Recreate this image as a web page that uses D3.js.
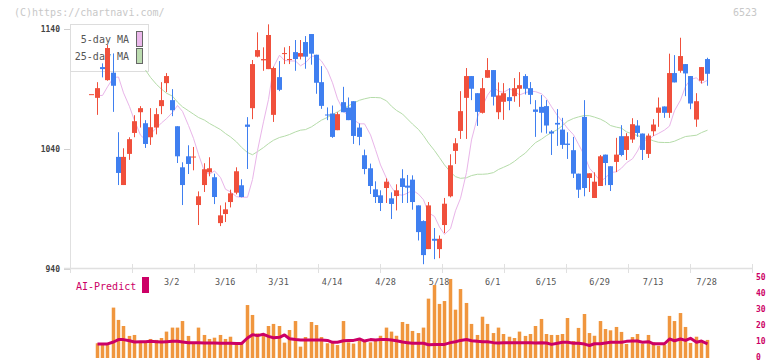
<!DOCTYPE html>
<html>
<head>
<meta charset="utf-8">
<script src="https://cdn.jsdelivr.net/npm/d3@7"></script>
<style>
  body { margin: 0; background: #fff; }
  svg text { font-family: "DejaVu Sans Mono", monospace; }
</style>
</head>
<body>
<svg id="chart"></svg>
<script>
// daily candles, index 0 is a no-trade day
const opens = [1085.6,1082.5,1108.2,1097.3,1103.5,1033.2,1009.7,1035.7,1053.2,1070.5,1061.3,1049.6,1057.7,1075.6,1094.8,1080.6,1058.8,1024.5,1033.7,1032.8,
  993.0,1009.7,1020.3,1016.2,977.9,985.5,995.5,1003.3,1009.5,1060.2,1073.9,1116.9,1113.8,1106.5,1068.3,1099.8,1119.4,1114.3,1120.7,1116.9,
  1129.1,1135.8,1118.5,1095.6,1068.6,1069.4,1055.5,1078.9,1074.4,1079.7,1057.7,1034.6,1023.7,1006.1,1001.1,1007.2,998.6,1000.5,1015.3,1009.2,
  1014.2,992.7,979.6,956.2,964.8,956.2,976.3,1000.3,1038.2,1054.9,1082.5,1100.7,1086.4,1070.0,1099.3,1105.7,1070.5,1079.2,1083.1,1083.9,
  1090.1,1100.7,1090.6,1072.8,1075.0,1075.6,1054.4,1061.6,1056.0,1044.3,1038.8,1019.2,1066.6,1015.6,998.9,1008.9,1035.1,1025.4,1029.0,1050.5,
  1039.0,1047.7,1059.4,1052.7,1035.7,1054.6,1070.0,1075.3,1070.0,1103.2,1105.1,1110.7,1100.7,1064.4,1096.8,1114.9];
const highs = [1085.6,1095.6,1111.3,1126.6,1119.6,1053.8,1040.4,1049.6,1068.0,1075.6,1063.9,1073.9,1073.9,1095.6,1103.2,1089.8,1058.8,1028.7,1042.9,1041.5,
  1004.4,1027.9,1032.9,1019.2,992.7,995.2,1005.8,1024.5,1014.5,1066.4,1114.1,1137.2,1124.7,1143.9,1108.5,1113.2,1124.7,1125.8,1130.8,1130.8,
  1134.1,1135.8,1118.5,1109.0,1074.5,1076.1,1070.5,1091.7,1082.8,1079.7,1061.1,1039.3,1027.6,1012.8,1005.3,1015.3,1003.6,1010.3,1022.9,1018.1,
  1017.8,992.7,980.2,995.5,973.8,967.6,998.9,1035.4,1048.8,1088.1,1107.4,1100.7,1086.4,1099.0,1115.7,1105.7,1095.4,1094.8,1090.6,1099.0,
  1104.0,1102.3,1095.7,1080.6,1084.8,1080.6,1055.5,1073.1,1065.8,1053.8,1049.9,1019.2,1080.6,1019.5,1020.3,1034.8,1035.1,1025.4,1049.1,1059.7,
  1053.0,1065.5,1063.9,1052.7,1052.7,1064.7,1082.8,1075.3,1119.4,1118.2,1132.7,1110.7,1100.7,1086.4,1108.2,1116.0];
const lows = [1085.6,1068.3,1099.6,1096.8,1070.8,1009.7,1009.7,1030.7,1049.6,1057.7,1040.7,1043.2,1052.0,1068.9,1087.3,1067.2,1028.1,993.0,1018.9,1022.0,
  976.3,1003.9,1017.0,993.8,975.4,978.8,991.0,1001.9,999.4,1023.1,1064.7,1116.3,1105.1,1106.5,1062.4,1088.1,1110.7,1110.7,1105.1,1114.6,
  1106.8,1110.2,1085.9,1073.3,1063.9,1049.1,1055.5,1070.5,1063.9,1044.0,1042.9,1018.7,1002.2,994.7,988.0,994.7,981.3,988.5,994.7,994.7,
  989.1,963.4,943.6,956.2,947.8,948.6,969.6,999.4,1027.3,1048.2,1048.2,1080.6,1059.1,1069.4,1099.3,1076.1,1064.7,1064.1,1072.2,1079.2,
  1075.0,1085.3,1077.2,1049.9,1053.5,1052.7,1034.8,1042.4,1039.9,1031.5,1015.6,998.9,1000.3,1003.9,998.9,1008.9,1009.5,1004.7,1020.6,1033.7,
  1030.6,1044.9,1049.9,1030.6,1032.3,1050.7,1058.3,1065.8,1065.8,1095.4,1103.5,1083.9,1073.0,1058.3,1094.5,1092.6];
const closes = [1085.6,1090.6,1106.5,1124.1,1092.6,1019.8,1033.2,1048.0,1063.0,1073.9,1044.0,1058.0,1068.9,1080.6,1100.7,1072.2,1033.7,1009.7,1027.3,1033.5,
  1000.3,1022.9,1023.7,999.7,984.4,989.4,1002.8,1021.2,999.7,1058.3,1110.7,1122.4,1114.9,1135.0,1107.4,1089.2,1119.9,1114.9,1114.9,1119.9,
  1116.9,1119.4,1095.1,1075.8,1068.3,1049.9,1068.9,1070.5,1063.9,1050.7,1049.9,1023.1,1008.9,999.7,994.7,1012.5,993.9,1005.3,1008.1,1007.5,
  995.5,970.4,951.2,992.7,963.2,964.8,994.1,1026.2,1044.6,1071.4,1100.7,1090.1,1070.8,1090.6,1105.7,1083.4,1084.5,1086.4,1079.8,1090.6,
  1093.1,1090.1,1085.0,1070.8,1070.0,1059.4,1052.7,1060.2,1043.2,1043.2,1019.2,1005.8,1007.2,1019.5,1012.5,1033.7,1028.1,1009.7,1035.1,1034.8,
  1050.5,1060.5,1053.2,1039.0,1051.0,1060.2,1074.4,1070.0,1103.2,1095.4,1117.4,1102.9,1077.8,1079.7,1108.2,1102.6];

// moving averages as drawn
const ma5 = [null,1084.5,1084.5,1091.7,1099.5,1099.9,1086.7,1075.2,1063.5,1051.3,1047.6,1052.4,1057.4,1061.6,1065.1,1070.4,1076.1,1071.2,1059.4,1048.7,
  1035.3,1020.9,1018.7,1021.5,1016.0,1006.2,1004.0,1000.0,999.5,999.5,1014.3,1038.5,1062.5,1081.2,1108.3,1118.1,1113.8,1113.3,1113.3,1109.3,
  1111.8,1117.3,1117.2,1113.2,1105.4,1095.1,1081.7,1071.6,1066.7,1064.3,1060.8,1060.8,1051.6,1039.3,1026.5,1015.3,1007.8,1001.9,1001.2,1002.9,
  1005.5,1002.1,997.4,986.5,983.5,974.6,968.5,973.2,988.2,998.6,1020.2,1047.4,1066.6,1075.5,1084.7,1091.6,1088.1,1087.0,1090.1,1088.0,
  1084.9,1086.9,1088.0,1087.7,1085.9,1081.8,1075.1,1067.6,1062.6,1057.1,1051.7,1043.7,1034.3,1023.7,1019.0,1012.8,1015.7,1020.2,1020.7,1023.8,
  1028.3,1031.6,1038.1,1046.8,1047.6,1050.8,1052.8,1055.6,1058.9,1071.8,1080.6,1092.1,1097.8,1099.3,1094.6,1097.2];
const ma25 = [null,null,null,null,null,null,null,null,null,null,1105.7,1099.6,1093.7,1089.8,1086.4,1083.9,1078.9,1075.0,1071.7,1068.9,
  1066.1,1063.9,1061.1,1058.8,1056.0,1052.7,1049.9,1045.7,1041.2,1036.8,1035.0,1037.6,1041.0,1044.3,1047.1,1049.4,1050.5,1051.9,1054.1,1055.5,
  1056.0,1058.3,1061.1,1063.9,1066.2,1068.6,1070.8,1073.6,1075.9,1078.1,1080.5,1081.7,1082.8,1082.8,1082.5,1080.0,1075.5,1072.0,1069.0,1064.8,
  1060.6,1056.1,1050.9,1044.8,1038.5,1032.6,1026.5,1020.5,1016.7,1015.3,1015.8,1017.6,1018.7,1018.7,1019.0,1020.1,1022.7,1024.5,1026.8,1029.5,
  1032.9,1036.5,1041.0,1045.1,1048.0,1051.0,1053.5,1056.0,1059.4,1063.0,1065.3,1066.6,1067.8,1067.6,1066.4,1064.7,1062.5,1059.4,1058.0,1057.2,
  1054.1,1052.4,1051.0,1049.6,1048.2,1046.6,1045.4,1045.2,1045.2,1046.3,1048.5,1050.2,1050.7,1051.3,1053.5,1055.5];

// lower panel
const volume = [0,9.2,9.2,9.2,31.5,23.8,20,13.8,14.4,9.8,10.6,11.9,11.3,12.5,16.5,19,19,23.1,13.8,9.4,
  19,14.4,11.9,12.7,14.4,11.9,13.3,8.9,9.4,33.1,26.9,15.4,13.8,20,21.3,20,9.6,17.5,23.1,7.1,
  13.1,22.5,20.6,13.1,9.2,9.6,8.1,23.1,9.8,9.0,11.0,10.2,9.8,11.3,13.9,19,16.5,13.9,22.5,21.3,
  16.9,15.6,19,37.1,45.6,33.8,35.6,49.4,30.2,43.1,34.4,21.3,14.4,25.8,21.3,15.6,19,15,13.3,12.5,
  16.5,13.8,15,20,24.4,15,14.4,14.4,15,25,10.6,18.8,27.5,15.6,13.9,23.1,18.1,17.3,19.4,16.3,
  8.8,13.1,15,8.9,14.4,9.8,7.7,8.1,26.3,23.1,28.1,19.4,9.4,13.3,9.6,11.3];
const aiPredict = [null,8.8,8.8,8.8,10.0,11.5,11.5,10.8,10.0,10.2,10.2,10.4,10.2,10.0,10.2,10.4,10.4,10.0,9.6,9.6,
  9.6,9.4,9.4,9.4,9.2,9.2,9.2,9.0,9.0,12.5,14.6,14.0,14.8,13.5,12.7,12.9,14.4,12.0,11.5,11.3,
  11.3,11.3,11.3,11.3,11.0,9.8,9.8,10.8,11.0,11.0,11.9,10.6,11.5,11.3,11.5,11.5,11.3,10.8,10.0,9.6,
  9.2,9.2,9.2,8.3,8.5,8.5,8.5,9.6,10.2,11.0,11.6,10.8,10.4,10.2,10.2,9.6,9.4,9.6,9.6,9.6,
  9.6,9.6,9.6,9.4,9.6,9.4,8.5,9.2,9.8,9.8,9.2,9.2,8.7,7.8,8.9,8.9,9.4,9.8,9.8,9.8,
  10.4,10.6,10.6,9.8,10.2,8.9,8.9,8.9,11.9,10.8,11.9,11.0,12.3,9.8,10.6,8.9];

const dateLabels = ["3/2","3/16","3/31","4/14","4/28","5/18","6/1","6/15","6/29","7/13","7/28"];
const dateIndex = [15,25,35,45,55,65,75,85,95,105,115];
const priceTicks = [940,1040,1140];
const volTicks = [0,10,20,30,40,50];

class CandleChart {
  constructor(_config) {
    this.config = {
      parentElement: _config.parentElement,
      containerWidth: 772,
      containerHeight: 361,
      left: 70, right: 752
    };
    this.initVis();
  }

  initVis() {
    let vis = this;

    vis.svg = d3.select(vis.config.parentElement)
      .attr("width", vis.config.containerWidth)
      .attr("height", vis.config.containerHeight);

    // candle slots: a few empty slots either side
    vis.xScale = d3.scaleLinear().domain([-4, 123.5]).range([vis.config.left, vis.config.right]);
    vis.yScale = d3.scaleLinear().domain([940, 1140]).range([268.5, 29]);
    vis.vScale = d3.scaleLinear().domain([0, 50]).range([358, 278]);
    vis.gridScale = d3.scaleLinear().domain([0, 11]).range([vis.config.left, vis.config.right]);

    vis.renderVis();
  }

  renderVis() {
    let vis = this;
    const px = i => Math.round(vis.xScale(i));

    // watermark + code
    vis.svg.append("text").attr("x", 14).attr("y", 16)
      .style("font-size", "10px").attr("fill", "#c8c8c8")
      .text("(C)https://chartnavi.com/");
    vis.svg.append("text").attr("x", 757).attr("y", 16).attr("text-anchor", "end")
      .style("font-size", "10px").attr("fill", "#c8c8c8")
      .text("6523");

    // left axis
    vis.svg.append("line")
      .attr("x1", vis.config.left + 0.5).attr("x2", vis.config.left + 0.5)
      .attr("y1", 24).attr("y2", 268)
      .attr("stroke", "#e0e0e0");

    const yTicks = vis.svg.append("g").attr("class", "y-axis");
    yTicks.selectAll("line").data(priceTicks).join("line")
      .attr("x1", 64).attr("x2", vis.config.left)
      .attr("y1", d => Math.round(vis.yScale(d)) + 0.5)
      .attr("y2", d => Math.round(vis.yScale(d)) + 0.5)
      .attr("stroke", "#d0d0d0");
    yTicks.selectAll("text").data(priceTicks).join("text")
      .attr("x", 60).attr("y", d => vis.yScale(d) + 3)
      .attr("text-anchor", "end")
      .style("font-size", "8px").style("font-weight", "bold")
      .attr("fill", "#444")
      .text(d => d);

    // bottom axis line with evenly spaced ticks
    vis.svg.append("line")
      .attr("x1", 64).attr("x2", vis.config.right)
      .attr("y1", 268.5).attr("y2", 268.5)
      .attr("stroke", "#e0e0e0").attr("stroke-width", 1.5);
    vis.svg.append("g").selectAll("line").data(d3.range(12)).join("line")
      .attr("x1", d => Math.round(vis.gridScale(d)) + 0.5)
      .attr("x2", d => Math.round(vis.gridScale(d)) + 0.5)
      .attr("y1", 264).attr("y2", 273)
      .attr("stroke", "#e0e0e0");

    vis.svg.append("g").selectAll("text").data(dateLabels).join("text")
      .attr("x", (d, i) => vis.xScale(dateIndex[i]))
      .attr("y", 285)
      .attr("text-anchor", "middle")
      .style("font-size", "8.5px")
      .attr("fill", "#555")
      .text(d => d);

    // legend
    const legend = vis.svg.append("g").attr("class", "legend");
    legend.append("rect")
      .attr("x", 70.5).attr("y", 24.5).attr("width", 78).attr("height", 47)
      .attr("fill", "#fff").attr("stroke", "#ddd");
    const legendItems = [["5-day MA", "#ebb8eb", 43, 31.5], ["25-day MA", "#bcdcb0", 60, 48.5]];
    legendItems.forEach(([label, color, ty, ry]) => {
      legend.append("text").attr("x", 129).attr("y", ty).attr("text-anchor", "end")
        .style("font-size", "10px").attr("fill", "#555").text(label);
      legend.append("rect").attr("x", 136.5).attr("y", ry).attr("width", 6).attr("height", 15)
        .attr("fill", color).attr("stroke", "#666");
    });

    // moving averages
    const maLine = arr => d3.line()
      .defined(i => arr[i] != null)
      .x(i => px(i) + 0.5)
      .y(i => vis.yScale(arr[i]));
    const idx = d3.range(closes.length);
    vis.svg.append("path").attr("d", maLine(ma25)(idx))
      .attr("fill", "none").attr("stroke", "#b5dca9").attr("stroke-width", 1);
    vis.svg.append("path").attr("d", maLine(ma5)(idx))
      .attr("fill", "none").attr("stroke", "#e9b5e9").attr("stroke-width", 1);

    // candles
    const candles = vis.svg.append("g").attr("class", "candles")
      .selectAll("g").data(idx).join("g")
      .attr("fill", i => closes[i] >= opens[i] ? "#f0503c" : "#3f7ff0")
      .attr("stroke", i => closes[i] >= opens[i] ? "#f0503c" : "#3f7ff0");
    candles.append("line")
      .attr("x1", i => px(i) + 0.5).attr("x2", i => px(i) + 0.5)
      .attr("y1", i => vis.yScale(highs[i])).attr("y2", i => vis.yScale(lows[i]))
      .attr("stroke-width", 1);
    candles.append("rect")
      .attr("x", i => px(i) - 2)
      .attr("width", 5)
      .attr("y", i => vis.yScale(Math.max(opens[i], closes[i])))
      .attr("height", i => Math.max(1, vis.yScale(Math.min(opens[i], closes[i])) - vis.yScale(Math.max(opens[i], closes[i]))))
      .attr("stroke", "none");

    // lower panel: bars + AI-Predict line
    vis.svg.append("g").selectAll("rect").data(idx.filter(i => volume[i] > 0)).join("rect")
      .attr("x", i => px(i) - 1.25)
      .attr("width", 3.5)
      .attr("y", i => vis.vScale(volume[i]))
      .attr("height", i => vis.vScale(0) - vis.vScale(volume[i]))
      .attr("fill", "#f0963e");

    vis.svg.append("path")
      .attr("d", d3.line().defined(i => aiPredict[i] != null)
        .x(i => px(i) + 0.5).y(i => vis.vScale(aiPredict[i]))(idx))
      .attr("fill", "none").attr("stroke", "#cc0066").attr("stroke-width", 3)
      .attr("stroke-linejoin", "round");

    vis.svg.append("g").selectAll("text").data(volTicks).join("text")
      .attr("x", 756).attr("y", d => vis.vScale(d) + 2)
      .style("font-size", "8px").style("font-weight", "bold")
      .attr("fill", "#cc0066")
      .text(d => d);

    vis.svg.append("text").attr("x", 76).attr("y", 290)
      .style("font-size", "10px").attr("fill", "#cc0066")
      .text("AI-Predict");
    vis.svg.append("rect").attr("x", 142).attr("y", 277).attr("width", 7).attr("height", 16)
      .attr("fill", "#cc0066");
  }
}

new CandleChart({ parentElement: "#chart" });
</script>
</body>
</html>
